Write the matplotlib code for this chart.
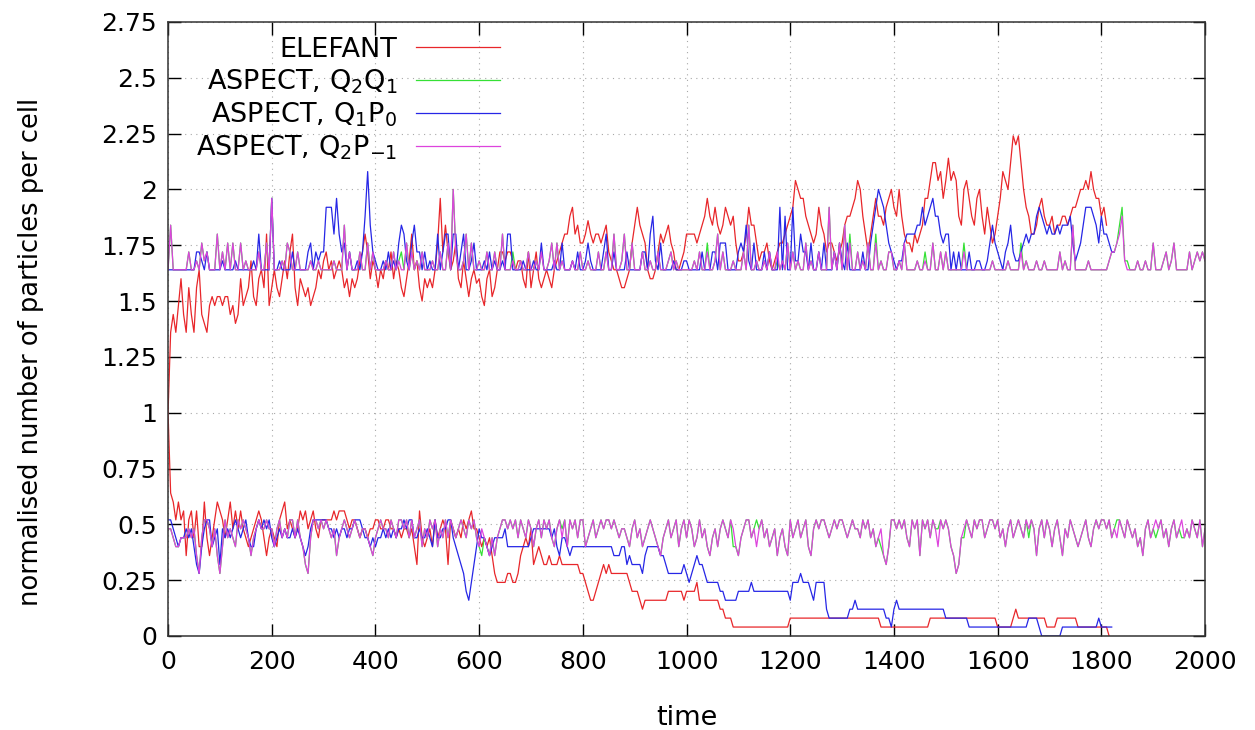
import numpy as np
import matplotlib
matplotlib.use("Agg")
import matplotlib.pyplot as plt
from matplotlib.ticker import FuncFormatter, MultipleLocator

DT = 5  # output interval of all runs (time units)

# ELEFANT, max / min normalised particles per cell
elefant_hi = [
    1.00, 1.36, 1.44, 1.36, 1.48, 1.60, 1.44, 1.36, 1.56, 1.44, 1.36, 1.56, 1.64, 1.44, 1.40, 1.36, 1.48, 1.52, 1.48, 1.52,
    1.52, 1.48, 1.52, 1.52, 1.44, 1.48, 1.40, 1.44, 1.60, 1.48, 1.52, 1.56, 1.68, 1.52, 1.48, 1.60, 1.64, 1.56, 1.80, 1.48,
    1.56, 1.64, 1.56, 1.52, 1.60, 1.68, 1.60, 1.72, 1.80, 1.56, 1.48, 1.60, 1.56, 1.52, 1.56, 1.48, 1.52, 1.56, 1.64, 1.60,
    1.68, 1.72, 1.64, 1.68, 1.60, 1.64, 1.68, 1.64, 1.56, 1.60, 1.52, 1.60, 1.56, 1.60, 1.68, 1.72, 1.80, 1.72, 1.60, 1.68,
    1.64, 1.56, 1.64, 1.60, 1.68, 1.64, 1.72, 1.60, 1.68, 1.64, 1.56, 1.52, 1.60, 1.68, 1.80, 1.64, 1.68, 1.56, 1.50, 1.60,
    1.56, 1.60, 1.56, 1.64, 1.76, 1.96, 1.72, 1.84, 1.72, 1.64, 1.68, 1.76, 1.60, 1.56, 1.68, 1.60, 1.52, 1.60, 1.64, 1.58,
    1.60, 1.52, 1.48, 1.60, 1.64, 1.52, 1.56, 1.64, 1.72, 1.72, 1.68, 1.72, 1.72, 1.68, 1.64, 1.68, 1.68, 1.60, 1.56, 1.72,
    1.56, 1.64, 1.72, 1.60, 1.56, 1.60, 1.64, 1.60, 1.56, 1.64, 1.68, 1.72, 1.76, 1.80, 1.80, 1.88, 1.92, 1.80, 1.84, 1.76,
    1.76, 1.80, 1.86, 1.80, 1.76, 1.80, 1.80, 1.76, 1.80, 1.84, 1.72, 1.68, 1.64, 1.64, 1.60, 1.56, 1.56, 1.60, 1.64, 1.76,
    1.84, 1.92, 1.84, 1.80, 1.76, 1.64, 1.60, 1.60, 1.64, 1.72, 1.80, 1.76, 1.80, 1.84, 1.76, 1.72, 1.64, 1.64, 1.68, 1.72,
    1.80, 1.80, 1.80, 1.80, 1.76, 1.80, 1.84, 1.88, 1.96, 1.88, 1.84, 1.92, 1.84, 1.80, 1.84, 1.92, 1.88, 1.84, 1.88, 1.76,
    1.68, 1.68, 1.72, 1.80, 1.92, 1.84, 1.84, 1.76, 1.68, 1.72, 1.72, 1.76, 1.68, 1.64, 1.68, 1.72, 1.76, 1.76, 1.80, 1.84,
    1.88, 1.92, 2.04, 2.00, 1.96, 1.96, 1.88, 1.84, 1.80, 1.76, 1.80, 1.92, 1.84, 1.80, 1.72, 1.76, 1.76, 1.72, 1.68, 1.72,
    1.76, 1.84, 1.88, 1.88, 1.92, 1.96, 2.04, 2.00, 1.88, 1.80, 1.72, 1.80, 1.88, 1.96, 1.88, 1.88, 1.84, 1.92, 1.96, 2.00,
    1.92, 1.88, 2.00, 1.88, 1.80, 1.76, 1.76, 1.72, 1.80, 1.76, 1.80, 1.84, 1.96, 1.96, 2.04, 2.12, 2.12, 2.04, 2.08, 1.96,
    2.04, 2.14, 2.04, 2.08, 2.04, 1.88, 1.84, 2.00, 2.04, 1.96, 1.88, 1.84, 1.96, 2.00, 1.88, 1.80, 1.92, 1.84, 1.76, 1.80,
    1.88, 1.96, 2.08, 2.04, 2.00, 2.12, 2.24, 2.20, 2.24, 2.12, 2.00, 1.92, 1.88, 1.80, 1.80, 1.84, 1.92, 1.96, 1.88, 1.84,
    1.84, 1.88, 1.80, 1.84, 1.84, 1.88, 1.88, 1.84, 1.88, 1.92, 1.92, 1.96, 2.00, 2.00, 2.04, 2.00, 2.08, 2.00, 1.96, 1.96,
    1.88, 1.92, 1.84,
]
elefant_lo = [
    1.00, 0.64, 0.60, 0.52, 0.60, 0.52, 0.56, 0.36, 0.52, 0.56, 0.44, 0.56, 0.40, 0.40, 0.60, 0.44, 0.36, 0.44, 0.52, 0.60,
    0.56, 0.52, 0.44, 0.52, 0.60, 0.48, 0.56, 0.48, 0.56, 0.48, 0.44, 0.40, 0.44, 0.48, 0.52, 0.56, 0.52, 0.44, 0.36, 0.44,
    0.48, 0.44, 0.40, 0.52, 0.56, 0.60, 0.48, 0.52, 0.48, 0.44, 0.48, 0.56, 0.52, 0.56, 0.48, 0.52, 0.56, 0.48, 0.44, 0.52,
    0.52, 0.52, 0.52, 0.52, 0.56, 0.52, 0.56, 0.56, 0.56, 0.52, 0.48, 0.52, 0.52, 0.48, 0.44, 0.48, 0.48, 0.44, 0.48, 0.48,
    0.52, 0.52, 0.48, 0.48, 0.52, 0.52, 0.48, 0.48, 0.44, 0.48, 0.44, 0.48, 0.48, 0.44, 0.48, 0.40, 0.32, 0.56, 0.44, 0.40,
    0.44, 0.48, 0.40, 0.52, 0.44, 0.48, 0.52, 0.48, 0.32, 0.52, 0.48, 0.44, 0.48, 0.44, 0.52, 0.48, 0.52, 0.56, 0.48, 0.48,
    0.44, 0.40, 0.44, 0.40, 0.44, 0.36, 0.28, 0.24, 0.24, 0.24, 0.24, 0.28, 0.28, 0.24, 0.24, 0.28, 0.36, 0.40, 0.44, 0.40,
    0.48, 0.32, 0.36, 0.40, 0.36, 0.32, 0.32, 0.36, 0.32, 0.32, 0.32, 0.36, 0.32, 0.32, 0.32, 0.32, 0.32, 0.32, 0.32, 0.28,
    0.28, 0.24, 0.20, 0.16, 0.16, 0.20, 0.24, 0.28, 0.32, 0.28, 0.32, 0.28, 0.28, 0.28, 0.28, 0.28, 0.28, 0.28, 0.24, 0.20,
    0.20, 0.20, 0.16, 0.12, 0.16, 0.16, 0.16, 0.16, 0.16, 0.16, 0.16, 0.16, 0.16, 0.20, 0.20, 0.20, 0.20, 0.20, 0.20, 0.16,
    0.20, 0.20, 0.20, 0.20, 0.24, 0.16, 0.16, 0.16, 0.16, 0.16, 0.16, 0.16, 0.16, 0.12, 0.12, 0.08, 0.08, 0.08, 0.04, 0.04,
    0.04, 0.04, 0.04, 0.04, 0.04, 0.04, 0.04, 0.04, 0.04, 0.04, 0.04, 0.04, 0.04, 0.04, 0.04, 0.04, 0.04, 0.04, 0.04, 0.04,
    0.08, 0.08, 0.08, 0.08, 0.08, 0.08, 0.08, 0.08, 0.08, 0.08, 0.08, 0.08, 0.08, 0.08, 0.08, 0.08, 0.08, 0.08, 0.08, 0.08,
    0.08, 0.08, 0.08, 0.08, 0.08, 0.08, 0.08, 0.08, 0.08, 0.08, 0.08, 0.08, 0.08, 0.08, 0.08, 0.04, 0.04, 0.04, 0.04, 0.04,
    0.04, 0.04, 0.04, 0.04, 0.04, 0.04, 0.04, 0.04, 0.04, 0.04, 0.04, 0.04, 0.04, 0.04, 0.08, 0.08, 0.08, 0.08, 0.08, 0.08,
    0.08, 0.08, 0.08, 0.08, 0.08, 0.08, 0.08, 0.08, 0.08, 0.08, 0.08, 0.08, 0.08, 0.08, 0.08, 0.08, 0.08, 0.08, 0.08, 0.08,
    0.04, 0.04, 0.04, 0.04, 0.04, 0.04, 0.08, 0.12, 0.08, 0.08, 0.08, 0.08, 0.08, 0.08, 0.08, 0.08, 0.08, 0.08, 0.08, 0.04,
    0.04, 0.04, 0.04, 0.08, 0.08, 0.08, 0.08, 0.08, 0.08, 0.08, 0.08, 0.04, 0.04, 0.04, 0.04, 0.04, 0.04, 0.04, 0.04, 0.04,
    0.04, 0.04, 0.04, 0.00,
]

# ASPECT Q1P0
q1p0_hi = [
    1.64, 1.64, 1.64, 1.64, 1.64, 1.64, 1.64, 1.64, 1.64, 1.64, 1.64, 1.72, 1.72, 1.68, 1.64, 1.72, 1.64, 1.64, 1.64, 1.64,
    1.64, 1.68, 1.64, 1.64, 1.64, 1.64, 1.68, 1.64, 1.64, 1.64, 1.64, 1.64, 1.64, 1.68, 1.64, 1.80, 1.64, 1.64, 1.64, 1.64,
    1.96, 1.64, 1.64, 1.68, 1.64, 1.64, 1.64, 1.64, 1.72, 1.64, 1.64, 1.64, 1.64, 1.64, 1.72, 1.76, 1.64, 1.72, 1.68, 1.72,
    1.72, 1.92, 1.92, 1.92, 1.80, 1.96, 1.80, 1.72, 1.76, 1.64, 1.72, 1.64, 1.64, 1.68, 1.64, 1.72, 1.88, 2.08, 1.84, 1.72,
    1.68, 1.64, 1.64, 1.68, 1.64, 1.72, 1.64, 1.68, 1.64, 1.76, 1.84, 1.80, 1.68, 1.64, 1.76, 1.84, 1.72, 1.72, 1.64, 1.72,
    1.64, 1.68, 1.64, 1.64, 1.80, 1.64, 1.72, 1.80, 1.80, 1.64, 1.80, 1.80, 1.64, 1.72, 1.80, 1.64, 1.64, 1.68, 1.76, 1.64,
    1.64, 1.64, 1.68, 1.64, 1.72, 1.64, 1.68, 1.64, 1.64, 1.68, 1.64, 1.80, 1.80, 1.64, 1.64, 1.64, 1.64, 1.68, 1.64, 1.64,
    1.64, 1.68, 1.64, 1.64, 1.76, 1.64, 1.64, 1.64, 1.64, 1.68, 1.64, 1.64, 1.76, 1.64, 1.64, 1.64, 1.68, 1.64, 1.72, 1.64,
    1.64, 1.68, 1.76, 1.68, 1.64, 1.64, 1.64, 1.64, 1.72, 1.80, 1.64, 1.64, 1.72, 1.64, 1.64, 1.64, 1.64, 1.72, 1.64, 1.64,
    1.64, 1.64, 1.64, 1.72, 1.72, 1.64, 1.80, 1.88, 1.68, 1.64, 1.76, 1.64, 1.64, 1.64, 1.64, 1.68, 1.64, 1.64, 1.64, 1.68,
    1.68, 1.64, 1.64, 1.64, 1.64, 1.64, 1.72, 1.64, 1.64, 1.64, 1.72, 1.72, 1.64, 1.76, 1.76, 1.76, 1.64, 1.64, 1.64, 1.64,
    1.72, 1.76, 1.72, 1.84, 1.68, 1.64, 1.76, 1.64, 1.64, 1.64, 1.72, 1.64, 1.72, 1.64, 1.64, 1.64, 1.92, 1.64, 1.88, 1.64,
    1.64, 1.92, 1.68, 1.68, 1.80, 1.72, 1.72, 1.64, 1.76, 1.64, 1.64, 1.72, 1.64, 1.76, 1.64, 1.64, 1.64, 1.72, 1.64, 1.76,
    1.68, 1.64, 1.76, 1.64, 1.64, 1.64, 1.64, 1.64, 1.72, 1.64, 1.64, 1.76, 1.84, 1.92, 2.00, 1.96, 1.92, 1.84, 1.76, 1.72,
    1.68, 1.64, 1.68, 1.68, 1.76, 1.80, 1.80, 1.80, 1.80, 1.84, 1.84, 1.92, 1.84, 1.88, 1.92, 1.96, 1.88, 1.88, 1.80, 1.76,
    1.80, 1.80, 1.64, 1.72, 1.64, 1.72, 1.64, 1.64, 1.64, 1.72, 1.64, 1.64, 1.68, 1.68, 1.64, 1.64, 1.68, 1.76, 1.84, 1.76,
    1.72, 1.68, 1.64, 1.72, 1.76, 1.84, 1.72, 1.68, 1.68, 1.72, 1.76, 1.80, 1.76, 1.80, 1.80, 1.88, 1.92, 1.88, 1.84, 1.80,
    1.84, 1.80, 1.80, 1.84, 1.80, 1.84, 1.84, 1.84, 1.88, 1.76, 1.68, 1.72, 1.76, 1.84, 1.92, 1.92, 1.92, 1.88, 1.84, 1.76,
    1.88, 1.80, 1.80, 1.76, 1.72, 1.72,
]
q1p0_lo = [
    0.52, 0.52, 0.48, 0.44, 0.40, 0.44, 0.44, 0.48, 0.44, 0.48, 0.40, 0.32, 0.28, 0.40, 0.48, 0.52, 0.52, 0.40, 0.44, 0.48,
    0.32, 0.48, 0.44, 0.48, 0.44, 0.48, 0.52, 0.48, 0.44, 0.48, 0.52, 0.44, 0.40, 0.40, 0.48, 0.52, 0.48, 0.52, 0.48, 0.52,
    0.44, 0.40, 0.44, 0.48, 0.44, 0.48, 0.44, 0.44, 0.48, 0.44, 0.48, 0.44, 0.40, 0.36, 0.40, 0.48, 0.52, 0.52, 0.52, 0.52,
    0.52, 0.52, 0.48, 0.48, 0.44, 0.48, 0.44, 0.48, 0.48, 0.44, 0.48, 0.48, 0.52, 0.52, 0.52, 0.48, 0.44, 0.44, 0.40, 0.44,
    0.40, 0.44, 0.44, 0.48, 0.44, 0.48, 0.44, 0.48, 0.44, 0.48, 0.48, 0.52, 0.48, 0.52, 0.52, 0.44, 0.44, 0.48, 0.44, 0.44,
    0.48, 0.44, 0.40, 0.52, 0.44, 0.44, 0.48, 0.48, 0.52, 0.52, 0.44, 0.40, 0.36, 0.32, 0.28, 0.20, 0.16, 0.24, 0.32, 0.40,
    0.48, 0.44, 0.44, 0.40, 0.36, 0.40, 0.44, 0.44, 0.44, 0.44, 0.48, 0.40, 0.40, 0.40, 0.40, 0.40, 0.40, 0.40, 0.40, 0.40,
    0.44, 0.48, 0.48, 0.48, 0.48, 0.48, 0.48, 0.48, 0.44, 0.48, 0.40, 0.36, 0.44, 0.44, 0.40, 0.36, 0.40, 0.40, 0.40, 0.40,
    0.40, 0.40, 0.40, 0.40, 0.40, 0.40, 0.40, 0.40, 0.40, 0.40, 0.40, 0.40, 0.36, 0.36, 0.36, 0.40, 0.40, 0.32, 0.36, 0.32,
    0.32, 0.32, 0.32, 0.28, 0.36, 0.40, 0.40, 0.40, 0.40, 0.40, 0.36, 0.36, 0.32, 0.28, 0.28, 0.28, 0.28, 0.28, 0.28, 0.32,
    0.28, 0.24, 0.28, 0.32, 0.36, 0.32, 0.32, 0.28, 0.24, 0.24, 0.24, 0.24, 0.24, 0.20, 0.20, 0.16, 0.16, 0.16, 0.16, 0.16,
    0.20, 0.20, 0.20, 0.20, 0.20, 0.24, 0.20, 0.20, 0.20, 0.20, 0.20, 0.20, 0.20, 0.20, 0.20, 0.20, 0.20, 0.20, 0.20, 0.20,
    0.16, 0.24, 0.24, 0.24, 0.28, 0.24, 0.24, 0.24, 0.20, 0.16, 0.24, 0.24, 0.24, 0.24, 0.12, 0.08, 0.08, 0.08, 0.08, 0.08,
    0.08, 0.08, 0.08, 0.12, 0.12, 0.16, 0.12, 0.12, 0.12, 0.12, 0.12, 0.12, 0.12, 0.12, 0.12, 0.12, 0.12, 0.08, 0.08, 0.04,
    0.12, 0.16, 0.12, 0.12, 0.12, 0.12, 0.12, 0.12, 0.12, 0.12, 0.12, 0.12, 0.12, 0.12, 0.12, 0.12, 0.12, 0.12, 0.12, 0.12,
    0.08, 0.08, 0.08, 0.08, 0.08, 0.08, 0.08, 0.08, 0.08, 0.04, 0.04, 0.04, 0.04, 0.04, 0.04, 0.04, 0.04, 0.04, 0.04, 0.04,
    0.04, 0.04, 0.04, 0.04, 0.04, 0.04, 0.04, 0.04, 0.04, 0.04, 0.04, 0.04, 0.08, 0.08, 0.08, 0.08, 0.04, 0.00, 0.00, 0.00,
    0.00, 0.00, 0.00, 0.00, 0.00, 0.04, 0.04, 0.04, 0.04, 0.04, 0.04, 0.04, 0.04, 0.04, 0.04, 0.04, 0.04, 0.04, 0.04, 0.08,
    0.04, 0.04, 0.04, 0.04, 0.04,
]

# ASPECT Q2P-1
q2p1_hi = [
    1.64, 1.84, 1.64, 1.64, 1.64, 1.64, 1.64, 1.64, 1.72, 1.64, 1.64, 1.68, 1.64, 1.76, 1.68, 1.72, 1.64, 1.64, 1.64, 1.80,
    1.64, 1.72, 1.64, 1.76, 1.64, 1.76, 1.64, 1.64, 1.76, 1.64, 1.68, 1.64, 1.64, 1.64, 1.64, 1.72, 1.64, 1.64, 1.76, 1.64,
    1.96, 1.64, 1.64, 1.64, 1.68, 1.64, 1.76, 1.72, 1.64, 1.64, 1.72, 1.64, 1.64, 1.64, 1.64, 1.68, 1.64, 1.64, 1.68, 1.64,
    1.64, 1.64, 1.64, 1.64, 1.68, 1.64, 1.64, 1.64, 1.84, 1.64, 1.72, 1.64, 1.64, 1.64, 1.72, 1.64, 1.64, 1.76, 1.64, 1.72,
    1.64, 1.64, 1.64, 1.64, 1.68, 1.64, 1.64, 1.72, 1.64, 1.68, 1.64, 1.64, 1.76, 1.64, 1.72, 1.64, 1.68, 1.64, 1.72, 1.64,
    1.64, 1.64, 1.68, 1.64, 1.64, 1.72, 1.64, 1.64, 1.76, 1.64, 2.00, 1.72, 1.64, 1.64, 1.68, 1.80, 1.64, 1.76, 1.64, 1.64,
    1.68, 1.64, 1.64, 1.72, 1.64, 1.64, 1.72, 1.64, 1.64, 1.80, 1.64, 1.64, 1.64, 1.68, 1.64, 1.64, 1.68, 1.64, 1.64, 1.72,
    1.64, 1.64, 1.68, 1.64, 1.72, 1.64, 1.64, 1.68, 1.76, 1.64, 1.76, 1.64, 1.68, 1.64, 1.64, 1.64, 1.68, 1.64, 1.64, 1.72,
    1.64, 1.64, 1.68, 1.64, 1.64, 1.64, 1.72, 1.64, 1.64, 1.72, 1.64, 1.64, 1.80, 1.64, 1.64, 1.68, 1.80, 1.64, 1.64, 1.76,
    1.64, 1.64, 1.64, 1.72, 1.64, 1.64, 1.68, 1.64, 1.64, 1.72, 1.64, 1.64, 1.64, 1.68, 1.72, 1.64, 1.68, 1.64, 1.64, 1.64,
    1.64, 1.64, 1.64, 1.68, 1.64, 1.72, 1.64, 1.64, 1.72, 1.64, 1.64, 1.68, 1.80, 1.64, 1.72, 1.64, 1.64, 1.64, 1.68, 1.64,
    1.64, 1.64, 1.72, 1.64, 1.84, 1.64, 1.64, 1.68, 1.64, 1.64, 1.68, 1.64, 1.72, 1.64, 1.64, 1.72, 1.64, 1.68, 1.64, 1.76,
    1.64, 1.72, 1.64, 1.68, 1.64, 1.64, 1.76, 1.64, 1.68, 1.64, 1.64, 1.72, 1.64, 1.64, 1.64, 1.92, 1.64, 1.72, 1.64, 1.76,
    1.64, 1.84, 1.64, 1.76, 1.64, 1.64, 1.72, 1.64, 1.68, 1.64, 1.76, 1.64, 1.64, 1.76, 1.64, 1.68, 1.64, 1.64, 1.72, 1.72,
    1.64, 1.64, 1.68, 1.64, 1.76, 1.64, 1.64, 1.64, 1.64, 1.68, 1.64, 1.64, 1.68, 1.64, 1.64, 1.76, 1.64, 1.64, 1.72, 1.64,
    1.72, 1.64, 1.64, 1.64, 1.64, 1.64, 1.64, 1.72, 1.64, 1.64, 1.64, 1.64, 1.64, 1.64, 1.64, 1.64, 1.64, 1.64, 1.68, 1.64,
    1.64, 1.64, 1.64, 1.64, 1.68, 1.64, 1.64, 1.64, 1.64, 1.72, 1.64, 1.68, 1.64, 1.64, 1.64, 1.68, 1.64, 1.64, 1.68, 1.64,
    1.64, 1.64, 1.64, 1.64, 1.72, 1.64, 1.68, 1.64, 1.64, 1.84, 1.64, 1.64, 1.64, 1.64, 1.64, 1.68, 1.64, 1.64, 1.64, 1.64,
    1.64, 1.64, 1.64, 1.68, 1.72, 1.72, 1.76, 1.80, 1.88, 1.68, 1.64, 1.64, 1.64, 1.64, 1.68, 1.64, 1.64, 1.68, 1.64, 1.64,
    1.76, 1.64, 1.64, 1.64, 1.68, 1.72, 1.64, 1.68, 1.76, 1.64, 1.64, 1.64, 1.64, 1.64, 1.72, 1.64, 1.68, 1.72, 1.68, 1.72,
    1.68,
]
q2p1_lo = [
    0.48, 0.48, 0.44, 0.40, 0.40, 0.44, 0.44, 0.44, 0.48, 0.44, 0.48, 0.36, 0.28, 0.44, 0.52, 0.52, 0.48, 0.40, 0.48, 0.36,
    0.28, 0.40, 0.52, 0.44, 0.48, 0.44, 0.40, 0.52, 0.48, 0.52, 0.48, 0.44, 0.36, 0.44, 0.48, 0.52, 0.48, 0.48, 0.52, 0.48,
    0.48, 0.40, 0.48, 0.52, 0.44, 0.48, 0.44, 0.52, 0.52, 0.44, 0.52, 0.44, 0.40, 0.32, 0.28, 0.44, 0.52, 0.52, 0.48, 0.52,
    0.48, 0.52, 0.48, 0.44, 0.48, 0.36, 0.44, 0.48, 0.52, 0.48, 0.44, 0.48, 0.52, 0.48, 0.44, 0.48, 0.48, 0.44, 0.40, 0.36,
    0.44, 0.48, 0.52, 0.48, 0.48, 0.44, 0.52, 0.48, 0.44, 0.52, 0.52, 0.48, 0.52, 0.44, 0.52, 0.44, 0.48, 0.52, 0.40, 0.48,
    0.44, 0.52, 0.48, 0.52, 0.40, 0.48, 0.44, 0.52, 0.44, 0.52, 0.48, 0.44, 0.48, 0.52, 0.48, 0.44, 0.52, 0.48, 0.52, 0.44,
    0.40, 0.48, 0.44, 0.40, 0.36, 0.44, 0.36, 0.44, 0.48, 0.52, 0.52, 0.48, 0.52, 0.48, 0.52, 0.44, 0.52, 0.48, 0.44, 0.52,
    0.48, 0.40, 0.48, 0.52, 0.44, 0.52, 0.48, 0.52, 0.44, 0.40, 0.48, 0.52, 0.44, 0.52, 0.40, 0.52, 0.48, 0.52, 0.44, 0.52,
    0.52, 0.40, 0.44, 0.48, 0.52, 0.44, 0.48, 0.52, 0.48, 0.52, 0.52, 0.48, 0.52, 0.48, 0.44, 0.48, 0.48, 0.44, 0.40, 0.48,
    0.52, 0.44, 0.48, 0.40, 0.44, 0.48, 0.52, 0.48, 0.44, 0.40, 0.36, 0.44, 0.48, 0.52, 0.44, 0.48, 0.52, 0.40, 0.48, 0.52,
    0.44, 0.52, 0.48, 0.40, 0.44, 0.52, 0.44, 0.48, 0.40, 0.36, 0.44, 0.48, 0.40, 0.48, 0.52, 0.48, 0.44, 0.52, 0.48, 0.40,
    0.36, 0.44, 0.48, 0.52, 0.52, 0.44, 0.48, 0.40, 0.48, 0.52, 0.44, 0.48, 0.40, 0.44, 0.48, 0.36, 0.44, 0.48, 0.40, 0.36,
    0.52, 0.44, 0.48, 0.52, 0.44, 0.48, 0.52, 0.40, 0.36, 0.48, 0.52, 0.48, 0.52, 0.52, 0.48, 0.44, 0.48, 0.52, 0.48, 0.52,
    0.52, 0.48, 0.44, 0.48, 0.52, 0.48, 0.48, 0.44, 0.52, 0.48, 0.52, 0.44, 0.48, 0.40, 0.44, 0.48, 0.36, 0.32, 0.40, 0.52,
    0.52, 0.48, 0.52, 0.48, 0.52, 0.44, 0.40, 0.52, 0.48, 0.52, 0.36, 0.52, 0.48, 0.52, 0.44, 0.52, 0.48, 0.40, 0.52, 0.48,
    0.52, 0.48, 0.40, 0.36, 0.28, 0.32, 0.44, 0.48, 0.52, 0.48, 0.44, 0.52, 0.48, 0.52, 0.52, 0.44, 0.48, 0.52, 0.52, 0.48,
    0.52, 0.44, 0.48, 0.40, 0.48, 0.52, 0.44, 0.48, 0.52, 0.48, 0.44, 0.52, 0.48, 0.52, 0.48, 0.36, 0.48, 0.52, 0.44, 0.52,
    0.48, 0.40, 0.48, 0.52, 0.44, 0.36, 0.48, 0.44, 0.52, 0.48, 0.44, 0.40, 0.44, 0.48, 0.52, 0.44, 0.40, 0.48, 0.52, 0.48,
    0.52, 0.52, 0.48, 0.52, 0.44, 0.48, 0.44, 0.52, 0.48, 0.44, 0.52, 0.48, 0.44, 0.48, 0.40, 0.44, 0.36, 0.48, 0.52, 0.44,
    0.48, 0.52, 0.48, 0.52, 0.44, 0.48, 0.40, 0.48, 0.52, 0.44, 0.48, 0.52, 0.44, 0.48, 0.44, 0.52, 0.48, 0.44, 0.52, 0.40,
    0.48,
]

# ASPECT Q2Q1 follows Q2P-1 almost exactly; only the samples that differ are listed (time: value)
q2q1_hi_diff = {450: 1.72, 665: 1.72, 1040: 1.76, 1175: 1.68, 1315: 1.80, 1365: 1.80, 1460: 1.72,
                1535: 1.76, 1645: 1.76, 1835: 1.84, 1840: 1.92, 1850: 1.68}
q2q1_lo_diff = {605: 0.36, 760: 0.48, 1090: 0.40, 1135: 0.52, 1375: 0.40, 1485: 0.48, 1535: 0.44,
                1660: 0.44, 1830: 0.52, 1905: 0.44, 1955: 0.44}

q2q1_hi = list(q2p1_hi)
for t, v in q2q1_hi_diff.items():
    q2q1_hi[t // DT] = v
q2q1_lo = list(q2p1_lo)
for t, v in q2q1_lo_diff.items():
    q2q1_lo[t // DT] = v

series = [
    (elefant_hi, elefant_lo, "ELEFANT", "#e8262a"),
    (q2q1_hi, q2q1_lo, r"ASPECT, $\mathregular{Q_2Q_1}$", "#35e035"),
    (q1p0_hi, q1p0_lo, r"ASPECT, $\mathregular{Q_1P_0}$", "#2626e6"),
    (q2p1_hi, q2p1_lo, r"ASPECT, $\mathregular{Q_2P_{-1}}$", "#dd44dd"),
]

plt.rcParams["font.family"] = ["DejaVu Sans"]
fig = plt.figure(figsize=(12.55, 7.30), dpi=100)
ax = fig.add_axes([0.1339, 0.1288, 0.8263, 0.8411])

for hi, lo, label, color in series:
    ax.plot(np.arange(len(hi)) * DT, hi, color=color, lw=0.9, label=label)
    ax.plot(np.arange(len(lo)) * DT, lo, color=color, lw=0.9)

ax.set_xlim(0, 2000)
ax.set_ylim(0, 2.75)
ax.xaxis.set_major_locator(MultipleLocator(200))
ax.yaxis.set_major_locator(MultipleLocator(0.25))
ax.yaxis.set_major_formatter(FuncFormatter(lambda v, p: "%g" % v))
ax.grid(True, color="#a8a8a8", linestyle=(0, (1, 4)), linewidth=0.8)
ax.set_axisbelow(True)
ax.tick_params(direction="in", length=9, width=1, top=True, right=True, labelsize=18)
ax.tick_params(axis="x", pad=10)
ax.tick_params(axis="y", pad=8)
for s in ax.spines.values():
    s.set_linewidth(1.1)
    s.set_color("#333333")

ax.set_xlabel("time", fontsize=19.5, va="center")
ax.xaxis.set_label_coords(0.5, -0.1336)
ax.set_ylabel("normalised number of particles per cell", fontsize=18.5, va="center")
ax.yaxis.set_label_coords(-0.132, 0.4625)

ax.legend(loc="upper right", bbox_to_anchor=(0.32, 0.976), markerfirst=False, frameon=False,
          fontsize=19.5, handlelength=3.1, handletextpad=0.7, labelspacing=0.17,
          borderpad=0, borderaxespad=0)

fig.savefig("out.png", dpi=100)
